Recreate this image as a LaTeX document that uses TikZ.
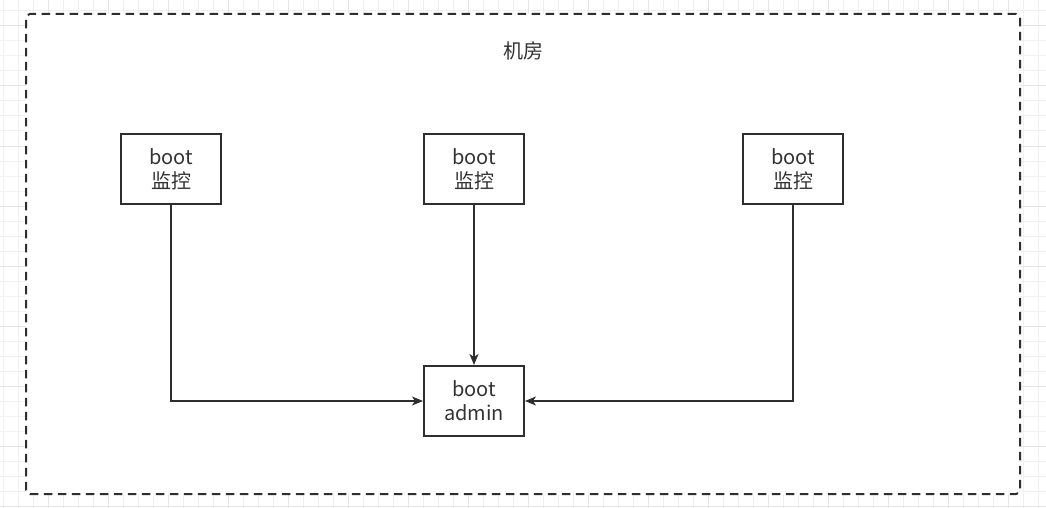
\documentclass[tikz,border=0pt]{standalone}
\usepackage{fontspec}
\setmainfont{Noto Sans CJK SC}
\usetikzlibrary{arrows.meta}
\definecolor{ink}{HTML}{2E2E2E}
\definecolor{txt}{HTML}{333333}
\definecolor{gridminor}{HTML}{F1F1F1}
\definecolor{gridmajor}{HTML}{E6E6E6}
\begin{document}
\begin{tikzpicture}[x=1pt,y=-1pt,
  box/.style={draw=ink, line width=2pt, fill=white, minimum width=100pt, minimum height=70pt,
    inner sep=0pt, align=center, text=txt, font=\fontsize{20}{24}\selectfont},
  room/.style={draw=ink, line width=2pt, dash pattern=on 8.5pt off 5.5pt, rounded corners=4pt,
    fill=white, minimum width=994pt, minimum height=480pt, inner sep=0pt},
  lbl/.style={text=txt, font=\fontsize{20}{24}\selectfont, inner sep=0pt},
  conn/.style={draw=ink, line width=1.5pt, -{Stealth[length=11pt,width=9pt,inset=3pt]}}]
\fill[white] (0,0) rectangle (1046,508);
\useasboundingbox (0,0) rectangle (1046,508);
\foreach \x in {3,18,...,1046} \draw[gridminor, line width=1pt] (\x,0) -- (\x,508);
\foreach \y in {11,26,...,508} \draw[gridminor, line width=1pt] (0,\y) -- (1046,\y);
\foreach \x in {48,108,...,1046} \draw[gridmajor, line width=1pt] (\x,0) -- (\x,508);
\foreach \y in {26,86,...,508} \draw[gridmajor, line width=1pt] (0,\y) -- (1046,\y);
\node[room] (room) at (523,254) {};
\node[lbl] (title) at (523,51) {机房};
\node[box] (b1) at (171,169) {boot\\监控};
\node[box] (b2) at (474,169) {boot\\监控};
\node[box] (b3) at (793,169) {boot\\监控};
\node[box] (admin) at (474,401) {boot\\admin};
\draw[conn] (b1.south) |- (admin.west);
\draw[conn] (b2.south) -- (admin.north);
\draw[conn] (b3.south) |- (admin.east);
\end{tikzpicture}
\end{document}
